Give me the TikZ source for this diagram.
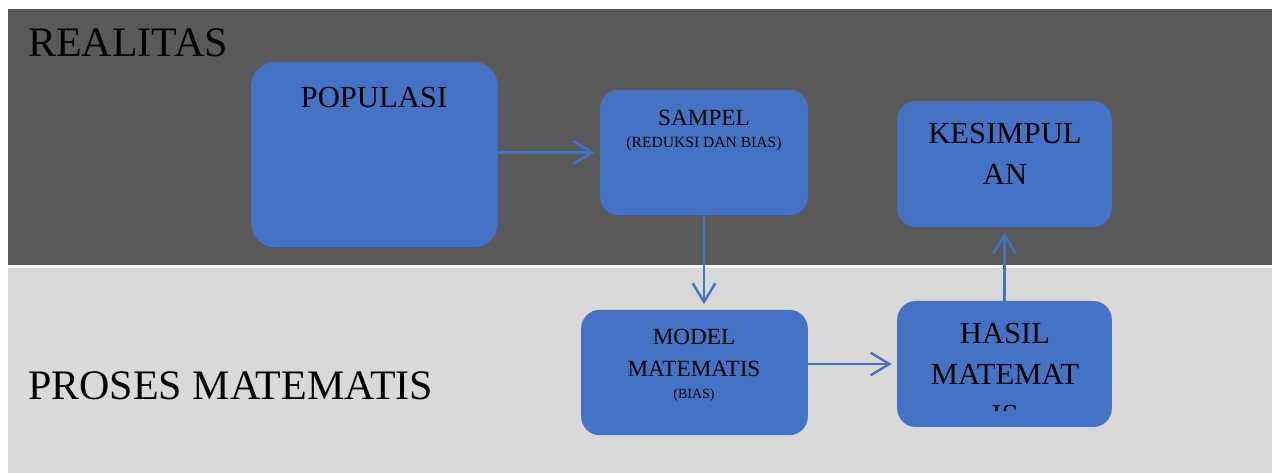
\documentclass[tikz,border=0pt]{standalone}
\usepackage{fontspec}
\setmainfont{Liberation Serif}
\usetikzlibrary{arrows.meta}
\definecolor{bandDark}{HTML}{595959}
\definecolor{bandLight}{HTML}{D9D9D9}
\definecolor{boxBlue}{HTML}{4472C4}
\tikzset{
  box/.style={fill=boxBlue, draw=none, rounded corners=#1, inner sep=0pt},
  box/.default=14pt,
  arr/.style={-{Straight Barb[length=14pt,width=17pt]}, draw=boxBlue, line width=1.8pt, shorten >=4pt},
  txt/.style={anchor=base, inner sep=0pt, font=\fontsize{#1}{#1}\selectfont},
}
\begin{document}
\begin{tikzpicture}[x=0.75pt,y=-0.75pt]
	\useasboundingbox (0,0) rectangle (1272,473);
	\fill[bandDark] (8,9) rectangle (1272,265.5);
	\fill[bandLight] (8,268) rectangle (1272,473);
	\node[txt=31.5, anchor=base west] (realitas) at (28,57) {REALITAS};
	\node[txt=31.5, anchor=base west] (proses) at (28,400) {PROSES MATEMATIS};
	% boxes
	\node[box=18pt, minimum width=185pt, minimum height=139pt] (pop) at (374.5,154.5) {};
	\node[box, minimum width=156pt, minimum height=94pt] (sam) at (704,152.5) {};
	\node[box, minimum width=161pt, minimum height=94.5pt] (kes) at (1004.5,164) {};
	\node[box, minimum width=170pt, minimum height=94pt] (mod) at (694.5,372.5) {};
	\node[box, minimum width=161pt, minimum height=94.5pt] (has) at (1004.5,364) {};
	% texts
	\node[txt=23] (popT) at (374,108) {POPULASI};
	\node[txt=17.4] (samT) at (704,126) {SAMPEL};
	\node[txt=11.7] (samS) at (704,148) {(REDUKSI DAN BIAS)};
	\node[txt=23] (kesT1) at (1005,144) {KESIMPUL};
	\node[txt=23] (kesT2) at (1005,185) {AN};
	\node[txt=17.4] (modT1) at (694,345) {MODEL};
	\node[txt=17.4] (modT2) at (694,377) {MATEMATIS};
	\node[txt=10.5] (modT3) at (694,399) {(BIAS)};
	\node[txt=23] (hasT1) at (1005,344) {HASIL};
	\node[txt=23] (hasT2) at (1005,385) {MATEMAT};
	\begin{scope}
		\clip (has.west |- 0,300) rectangle (has.east |- 0,411);
		\node[txt=23] (hasT3) at (1005,426) {IS};
	\end{scope}
	% arrows
	\draw[arr] (pop.east |- sam.west) -- (sam.west);
	\draw[arr] (sam.south) -- (sam.south |- mod.north);
	\draw[arr] (mod.east |- has.west) -- (has.west);
	\draw[arr] (has.north) -- (kes.south);
\end{tikzpicture}
\end{document}
